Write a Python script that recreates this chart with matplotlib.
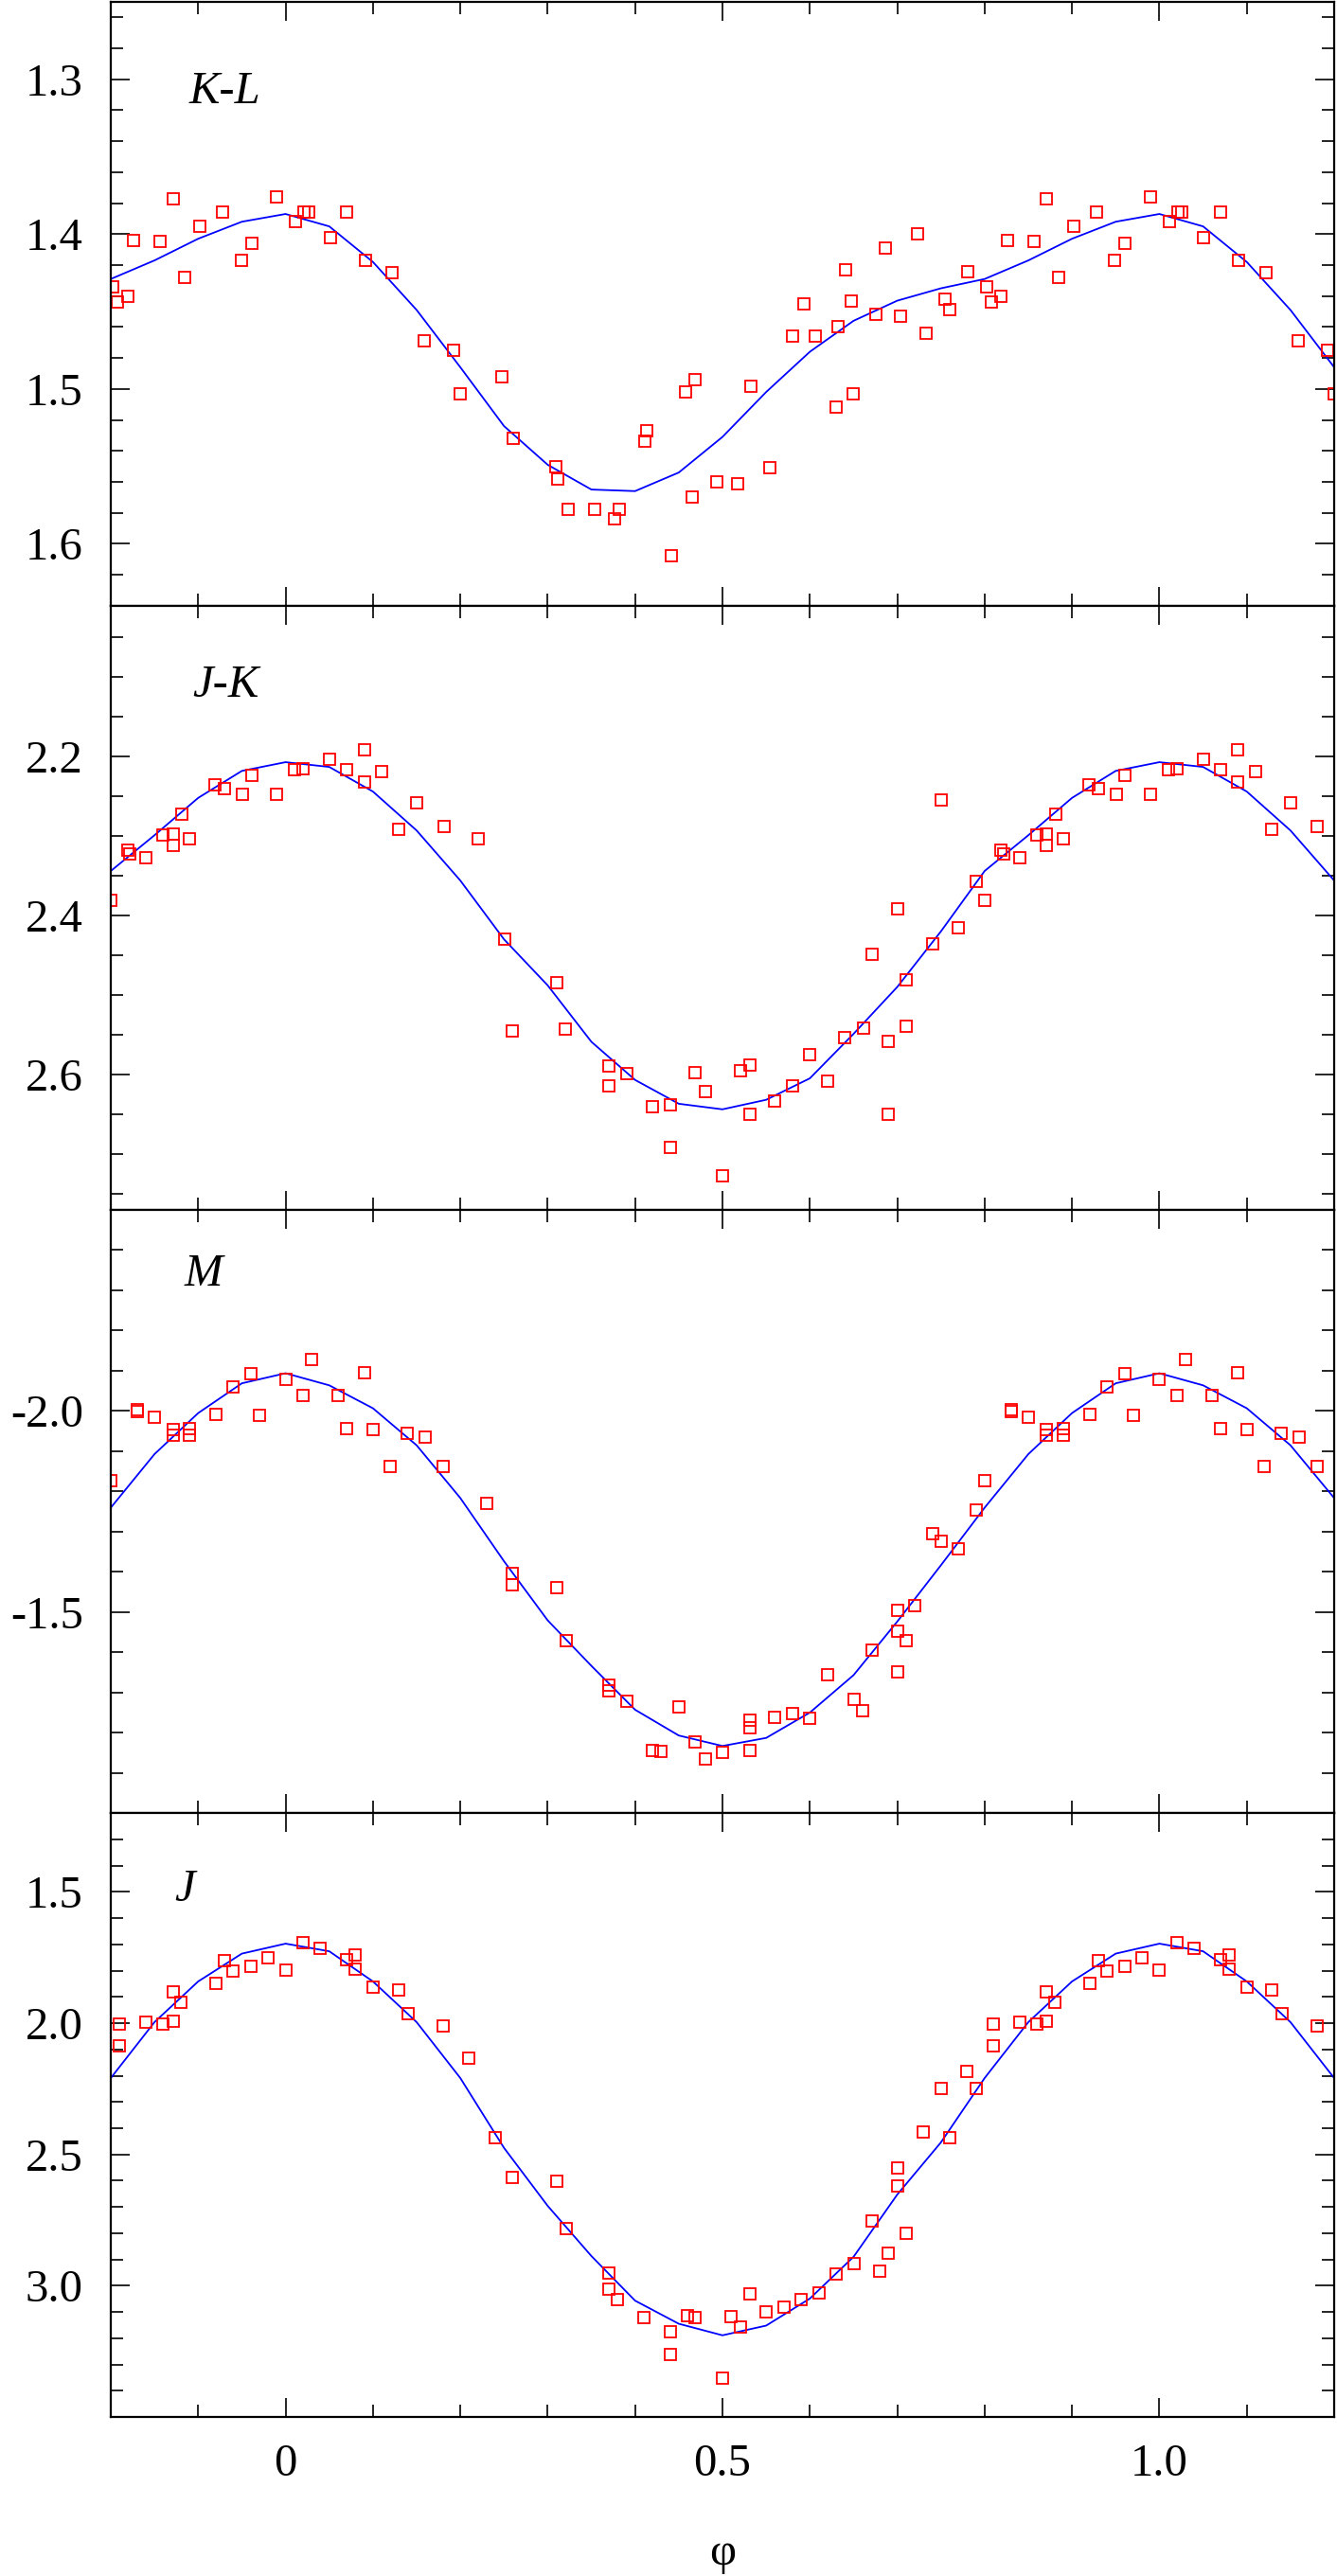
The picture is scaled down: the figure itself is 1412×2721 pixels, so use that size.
import matplotlib
matplotlib.use("Agg")
import matplotlib.pyplot as plt
import numpy as np
from matplotlib.ticker import FixedLocator, MultipleLocator

plt.rcParams['font.family'] = ['Liberation Serif', 'DejaVu Serif']
plt.rcParams['axes.unicode_minus'] = False

# phase grid of the fitted curves (one period)
fit_phase = [0.00, 0.05, 0.10, 0.15, 0.20, 0.25, 0.30, 0.35, 0.40, 0.45,
             0.50, 0.55, 0.60, 0.65, 0.70, 0.75, 0.80, 0.85, 0.90, 0.95]

# K-L
kl_phase = [0.011, 0.021, 0.026, 0.051, 0.070, 0.091, 0.122, 0.159, 0.192, 0.200,
            0.248, 0.261, 0.309, 0.311, 0.323, 0.354, 0.376, 0.382, 0.411, 0.413,
            0.441, 0.458, 0.465, 0.469, 0.493, 0.517, 0.533, 0.554, 0.580, 0.593,
            0.606, 0.630, 0.632, 0.641, 0.647, 0.649, 0.676, 0.686, 0.704, 0.723,
            0.733, 0.755, 0.760, 0.781, 0.802, 0.808, 0.819, 0.826, 0.856, 0.871,
            0.885, 0.902, 0.928, 0.949, 0.961, 0.990]
kl_value = [1.392, 1.386, 1.386, 1.402, 1.386, 1.417, 1.425, 1.469, 1.475, 1.503,
            1.492, 1.532, 1.550, 1.558, 1.578, 1.578, 1.584, 1.578, 1.534, 1.527,
            1.608, 1.502, 1.570, 1.494, 1.560, 1.561, 1.498, 1.551, 1.466, 1.445,
            1.466, 1.512, 1.460, 1.423, 1.443, 1.503, 1.452, 1.409, 1.453, 1.400,
            1.464, 1.442, 1.449, 1.424, 1.434, 1.444, 1.440, 1.404, 1.405, 1.377,
            1.428, 1.395, 1.386, 1.417, 1.406, 1.376]
kl_fit = [1.387, 1.395, 1.418, 1.449, 1.486, 1.524, 1.549, 1.565, 1.566, 1.554,
          1.531, 1.502, 1.476, 1.456, 1.443, 1.435, 1.429, 1.417, 1.403, 1.392]

# J-K
jk_phase = [0.010, 0.020, 0.050, 0.070, 0.090, 0.090, 0.110, 0.129, 0.150, 0.181,
            0.220, 0.251, 0.259, 0.310, 0.320, 0.370, 0.370, 0.391, 0.420, 0.440,
            0.440, 0.469, 0.480, 0.500, 0.521, 0.531, 0.531, 0.560, 0.580, 0.600,
            0.620, 0.640, 0.661, 0.671, 0.690, 0.690, 0.701, 0.710, 0.710, 0.741,
            0.750, 0.770, 0.790, 0.800, 0.819, 0.822, 0.840, 0.860, 0.871, 0.871,
            0.881, 0.890, 0.919, 0.930, 0.951, 0.961, 0.990]
jk_value = [2.216, 2.215, 2.203, 2.216, 2.191, 2.232, 2.219, 2.292, 2.258, 2.288,
            2.304, 2.430, 2.545, 2.485, 2.543, 2.589, 2.614, 2.599, 2.641, 2.638,
            2.692, 2.598, 2.622, 2.728, 2.595, 2.588, 2.650, 2.633, 2.615, 2.575,
            2.609, 2.554, 2.542, 2.449, 2.558, 2.650, 2.392, 2.481, 2.540, 2.436,
            2.255, 2.416, 2.357, 2.381, 2.318, 2.322, 2.327, 2.299, 2.298, 2.312,
            2.272, 2.303, 2.236, 2.240, 2.247, 2.224, 2.247]
jk_fit = [2.207, 2.213, 2.244, 2.293, 2.356, 2.430, 2.488, 2.559, 2.607, 2.637,
          2.644, 2.632, 2.605, 2.549, 2.490, 2.420, 2.344, 2.299, 2.252, 2.218]

# M
m_phase = [0.000, 0.020, 0.030, 0.060, 0.070, 0.090, 0.100, 0.120, 0.139, 0.160,
           0.180, 0.230, 0.259, 0.259, 0.310, 0.321, 0.370, 0.370, 0.391, 0.420,
           0.430, 0.450, 0.469, 0.480, 0.500, 0.531, 0.531, 0.531, 0.560, 0.580,
           0.600, 0.620, 0.651, 0.660, 0.671, 0.700, 0.700, 0.700, 0.710, 0.720,
           0.741, 0.750, 0.770, 0.790, 0.800, 0.830, 0.830, 0.850, 0.871, 0.871,
           0.890, 0.890, 0.920, 0.940, 0.960, 0.970]
m_value = [-2.078, -2.037, -2.127, -2.037, -1.956, -2.095, -1.952, -1.862, -1.943, -1.935,
           -1.862, -1.769, -1.596, -1.567, -1.561, -1.429, -1.319, -1.305, -1.277, -1.155,
           -1.154, -1.264, -1.176, -1.134, -1.152, -1.231, -1.212, -1.155, -1.238, -1.247,
           -1.236, -1.345, -1.284, -1.254, -1.404, -1.504, -1.452, -1.350, -1.429, -1.515,
           -1.694, -1.676, -1.656, -1.754, -1.826, -2.003, -1.997, -1.984, -1.952, -1.940,
           -1.956, -1.940, -1.990, -2.060, -2.092, -1.988]
m_fit = [-2.093, -2.063, -2.006, -1.914, -1.783, -1.626, -1.479, -1.366, -1.257, -1.193,
         -1.167, -1.187, -1.250, -1.343, -1.476, -1.616, -1.759, -1.892, -1.994, -2.068]

# J
j_phase = [0.000, 0.020, 0.040, 0.070, 0.080, 0.080, 0.100, 0.129, 0.140, 0.180,
           0.210, 0.240, 0.259, 0.310, 0.321, 0.370, 0.370, 0.380, 0.410, 0.440,
           0.440, 0.460, 0.469, 0.500, 0.510, 0.521, 0.531, 0.550, 0.570, 0.590,
           0.610, 0.630, 0.651, 0.671, 0.680, 0.690, 0.700, 0.700, 0.710, 0.730,
           0.750, 0.760, 0.780, 0.790, 0.810, 0.810, 0.840, 0.860, 0.871, 0.871,
           0.880, 0.920, 0.930, 0.940, 0.960, 0.980]
j_value = [1.797, 1.694, 1.714, 1.758, 1.741, 1.793, 1.863, 1.874, 1.963, 2.011,
           2.133, 2.435, 2.588, 2.603, 2.784, 2.951, 3.013, 3.052, 3.123, 3.175,
           3.263, 3.113, 3.120, 3.352, 3.116, 3.157, 3.032, 3.098, 3.082, 3.052,
           3.027, 2.957, 2.914, 2.755, 2.946, 2.875, 2.553, 2.619, 2.799, 2.413,
           2.248, 2.437, 2.183, 2.249, 2.005, 2.087, 1.997, 2.002, 1.991, 1.882,
           1.922, 1.848, 1.760, 1.801, 1.784, 1.750]
j_fit = [1.697, 1.726, 1.841, 1.996, 2.209, 2.475, 2.696, 2.887, 3.057, 3.145,
         3.189, 3.152, 3.049, 2.890, 2.653, 2.454, 2.209, 1.996, 1.841, 1.735]

panels = [
    # name, phase, value, fit, ylim (bottom, top), major ticks, labels, minor step, text pos
    ("K-L", kl_phase, kl_value, kl_fit, (1.64, 1.25), [1.3, 1.4, 1.5, 1.6],
     ["1.3", "1.4", "1.5", "1.6"], 0.02, (0.064, 0.833)),
    ("J-K", jk_phase, jk_value, jk_fit, (2.77, 2.01), [2.2, 2.4, 2.6],
     ["2.2", "2.4", "2.6"], 0.05, (0.067, 0.849)),
    ("M", m_phase, m_value, m_fit, (-1.0, -2.5), [-2.0, -1.5],
     ["-2.0", "-1.5"], 0.1, (0.060, 0.873)),
    ("J", j_phase, j_value, j_fit, (3.5, 1.2), [1.5, 2.0, 2.5, 3.0],
     ["1.5", "2.0", "2.5", "3.0"], 0.1, (0.052, 0.855)),
]

fig, axes = plt.subplots(4, 1, sharex=True, figsize=(14.12, 27.21), dpi=100)
fig.subplots_adjust(left=117 / 1412, right=1409 / 1412,
                    top=1 - 2 / 2721, bottom=1 - 2553 / 2721, hspace=0)

for ax, (name, ph, val, fit, ylim, yt, ytl, ystep, tpos) in zip(axes, panels):
    ph = np.array(ph)
    val = np.array(val)
    fp = np.array(fit_phase)
    fv = np.array(fit)
    # phase-folded copies so the window -0.2 .. 1.2 is covered
    fx = np.concatenate([fp - 1, fp, fp + 1])
    fy = np.concatenate([fv, fv, fv])
    px = np.concatenate([ph - 1, ph, ph + 1])
    py = np.concatenate([val, val, val])

    ax.plot(fx, fy, color='#0000ff', lw=1.3)
    ax.plot(px, py, ls='none', marker='s', ms=8.6, mfc='none',
            mec='#ff0000', mew=1.3)

    ax.set_xlim(-0.2, 1.2)
    ax.set_ylim(*ylim)
    ax.yaxis.set_major_locator(FixedLocator(yt))
    ax.set_yticklabels(ytl)
    ax.yaxis.set_minor_locator(MultipleLocator(ystep))
    ax.xaxis.set_major_locator(FixedLocator([0, 0.5, 1.0]))
    ax.xaxis.set_minor_locator(MultipleLocator(0.1))

    ax.tick_params(which='both', direction='in', top=True, right=True,
                   width=1.2, labelsize=35, color='black')
    ax.tick_params(which='major', length=14.4)
    ax.tick_params(which='minor', length=9.5)
    ax.tick_params(axis='y', pad=21)
    ax.tick_params(axis='x', pad=20)
    for sp in ax.spines.values():
        sp.set_linewidth(1.6)

    ax.text(tpos[0], tpos[1], name, transform=ax.transAxes, fontsize=35,
            fontstyle='italic', ha='left', va='baseline')

axes[-1].set_xticklabels(["0", "0.5", "1.0"])
axes[-1].set_xlabel("φ", fontsize=35, labelpad=36)

fig.savefig("out.png", dpi=100)
